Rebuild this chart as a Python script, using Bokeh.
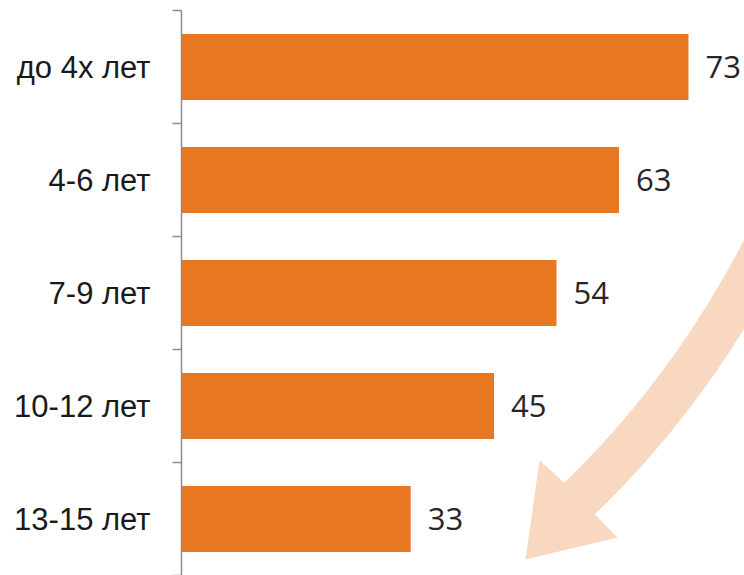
import numpy as np
from bokeh.plotting import figure
from bokeh.models import Range1d, FixedTicker
from bokeh.core.properties import value
from bokeh.embed import file_html
from bokeh.resources import INLINE

# --- data ---
categories = ["до 4х лет", "4-6 лет", "7-9 лет", "10-12 лет", "13-15 лет"]
values = [73, 63, 54, 45, 33]
value_labels = [str(v) for v in values]

# decorative arrow (image-pixel space): bezier centre line and head
arrow_ctrl_x = [785, 705, 579]
arrow_ctrl_y = [205, 377, 498]
arrow_half_width = 22
arrow_head_x = [539, 525, 617]
arrow_head_y = [460, 559, 537]

BAR = "#E87722"
ARROW = "#F8D8C1"

W, H = 744, 575
LEFT, TOP = 181, 10
PX_PER_UNIT = 6.945
p = figure(width=W, height=H, output_backend="svg", toolbar_location=None,
           x_range=Range1d(0, (W - LEFT) / PX_PER_UNIT), y_range=Range1d(5, 0),
           min_border_left=LEFT, min_border_right=0, min_border_top=TOP,
           min_border_bottom=0)
p.outline_line_color = None
p.xgrid.visible = False
p.ygrid.visible = False
p.xaxis.visible = False
p.background_fill_color = "white"

# pixel-space ranges for the decoration
p.extra_x_ranges = {"px": Range1d(LEFT, W)}
p.extra_y_ranges = {"py": Range1d(H, TOP)}

# arrow shaft via quadratic bezier
t = np.linspace(0, 1, 80)
P = np.array([arrow_ctrl_x, arrow_ctrl_y], dtype=float)
cx = (1 - t) ** 2 * P[0, 0] + 2 * (1 - t) * t * P[0, 1] + t ** 2 * P[0, 2]
cy = (1 - t) ** 2 * P[1, 0] + 2 * (1 - t) * t * P[1, 1] + t ** 2 * P[1, 2]
dx = 2 * (1 - t) * (P[0, 1] - P[0, 0]) + 2 * t * (P[0, 2] - P[0, 1])
dy = 2 * (1 - t) * (P[1, 1] - P[1, 0]) + 2 * t * (P[1, 2] - P[1, 1])
n = np.hypot(dx, dy)
nx, ny = -dy / n, dx / n
lx, ly = cx + arrow_half_width * nx, cy + arrow_half_width * ny
rx, ry = cx - arrow_half_width * nx, cy - arrow_half_width * ny
poly_x = list(lx) + arrow_head_x + list(rx[::-1])
poly_y = list(ly) + arrow_head_y + list(ry[::-1])
p.patch(poly_x, poly_y, fill_color=ARROW, line_color=None,
        x_range_name="px", y_range_name="py")

ys = [i + 0.5 for i in range(len(categories))]
p.hbar(y=ys, left=0, right=values, height=0.584, fill_color=BAR, line_color=None)

p.text(x=values, y=ys, text=value_labels, x_offset=17, text_baseline="middle",
       text_align="left", text_font=value("Open Sans"), text_font_size="31px",
       text_color="#262626")

ax = p.yaxis[0]
ax.ticker = FixedTicker(ticks=ys, minor_ticks=list(range(len(categories) + 1)))
ax.major_label_overrides = {y: c for y, c in zip(ys, categories)}
ax.major_tick_line_color = None
ax.major_tick_out = 0
ax.major_tick_in = 0
ax.minor_tick_out = 9
ax.minor_tick_in = 0
ax.minor_tick_line_color = "#8c8c8c"
ax.minor_tick_line_width = 1.5
ax.axis_line_color = "#8c8c8c"
ax.axis_line_width = 1.5
ax.major_label_standoff = 22
ax.major_label_text_font = "Liberation Sans"
ax.major_label_text_font_size = "31px"
ax.major_label_text_color = "#1a1a1a"

open("out.html", "w").write(file_html(p, INLINE))
